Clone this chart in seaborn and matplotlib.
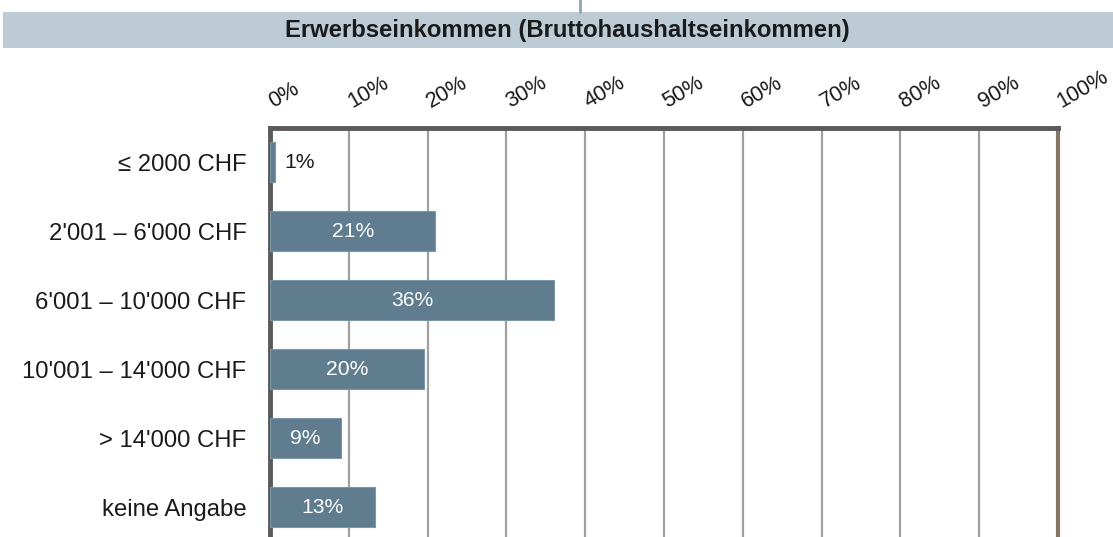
import pandas as pd
import seaborn as sns
import matplotlib.pyplot as plt
from matplotlib.patches import Rectangle
from matplotlib.lines import Line2D
from matplotlib.transforms import ScaledTranslation

# Chart data
categories = ["≤ 2000 CHF", "2'001 – 6'000 CHF", "6'001 – 10'000 CHF",
              "10'001 – 14'000 CHF", "> 14'000 CHF", "keine Angabe"]
shares = [0.6, 21, 36, 19.5, 9, 13.3]
share_labels = ["1%", "21%", "36%", "20%", "9%", "13%"]
tick_values = [0, 10, 20, 30, 40, 50, 60, 70, 80, 90, 100]
tick_labels = [f"{v}%" for v in tick_values]
title = "Erwerbseinkommen (Bruttohaushaltseinkommen)"

df = pd.DataFrame({"kategorie": categories, "anteil": shares})

sns.set_style("white")
plt.rcParams['font.family'] = ['Liberation Sans', 'DejaVu Sans']

fig = plt.figure(figsize=(11.13, 5.37), dpi=100)

# header band and the little connector line above it
fig.patches.append(Rectangle((3 / 1113, 1 - 48 / 537), 1, 36 / 537,
                             transform=fig.transFigure, facecolor="#BDCCD4",
                             edgecolor="none", zorder=0))
fig.lines.append(Line2D([580 / 1113, 580 / 1113], [1, 1 - 12 / 537],
                        transform=fig.transFigure, color="#8FA5B2", lw=2))
fig.text(567 / 1113, 1 - 31 / 537, title, ha="center", va="center",
         fontsize=17.2, fontweight="bold", color="#1a1a1a")

ax = fig.add_axes([270 / 1113, 0, 788 / 1113, 1 - 128 / 537])
sns.barplot(data=df, x="anteil", y="kategorie", orient="h", ax=ax,
            color="#5F7D8E", width=0.58, saturation=1,
            edgecolor="#7C97A6", linewidth=0.8, zorder=3)

ax.set_xlim(0, 100)
ax.set_ylim(5.43, -0.5)
ax.set_xlabel("")
ax.set_ylabel("")

# gridlines
ax.set_xticks(tick_values)
ax.grid(axis="x", color="#A0A0A0", lw=1.6, zorder=1)
ax.grid(axis="y", visible=False)

ax.xaxis.tick_top()
ax.set_xticklabels(tick_labels, rotation=30, ha="left", va="bottom",
                   rotation_mode="anchor", fontsize=15.7, color="#1a1a1a")
ax.tick_params(axis="x", length=0, pad=11)
ax.tick_params(axis="y", length=0, pad=17, labelsize=17.2, labelcolor="#1a1a1a")
shift = ScaledTranslation(6 / 100, 0, fig.dpi_scale_trans)
for lab in ax.get_xticklabels():
    lab.set_transform(lab.get_transform() + shift)

ax.spines["bottom"].set_visible(False)
ax.spines["top"].set_color("#5A5A5A")
ax.spines["top"].set_linewidth(3.5)
ax.spines["left"].set_color("#5A5A5A")
ax.spines["left"].set_linewidth(3.5)
ax.spines["right"].set_color("#857565")
ax.spines["right"].set_linewidth(3)

# value labels
for i, (v, lab) in enumerate(zip(shares, share_labels)):
    if v < 3:
        ax.text(v + 1.2, i, lab, ha="left", va="center", fontsize=15.2,
                color="#1a1a1a", zorder=4)
    else:
        ax.text(v / 2, i, lab, ha="center", va="center", fontsize=15.2,
                color="white", zorder=4)

fig.savefig("out.png", dpi=100)
